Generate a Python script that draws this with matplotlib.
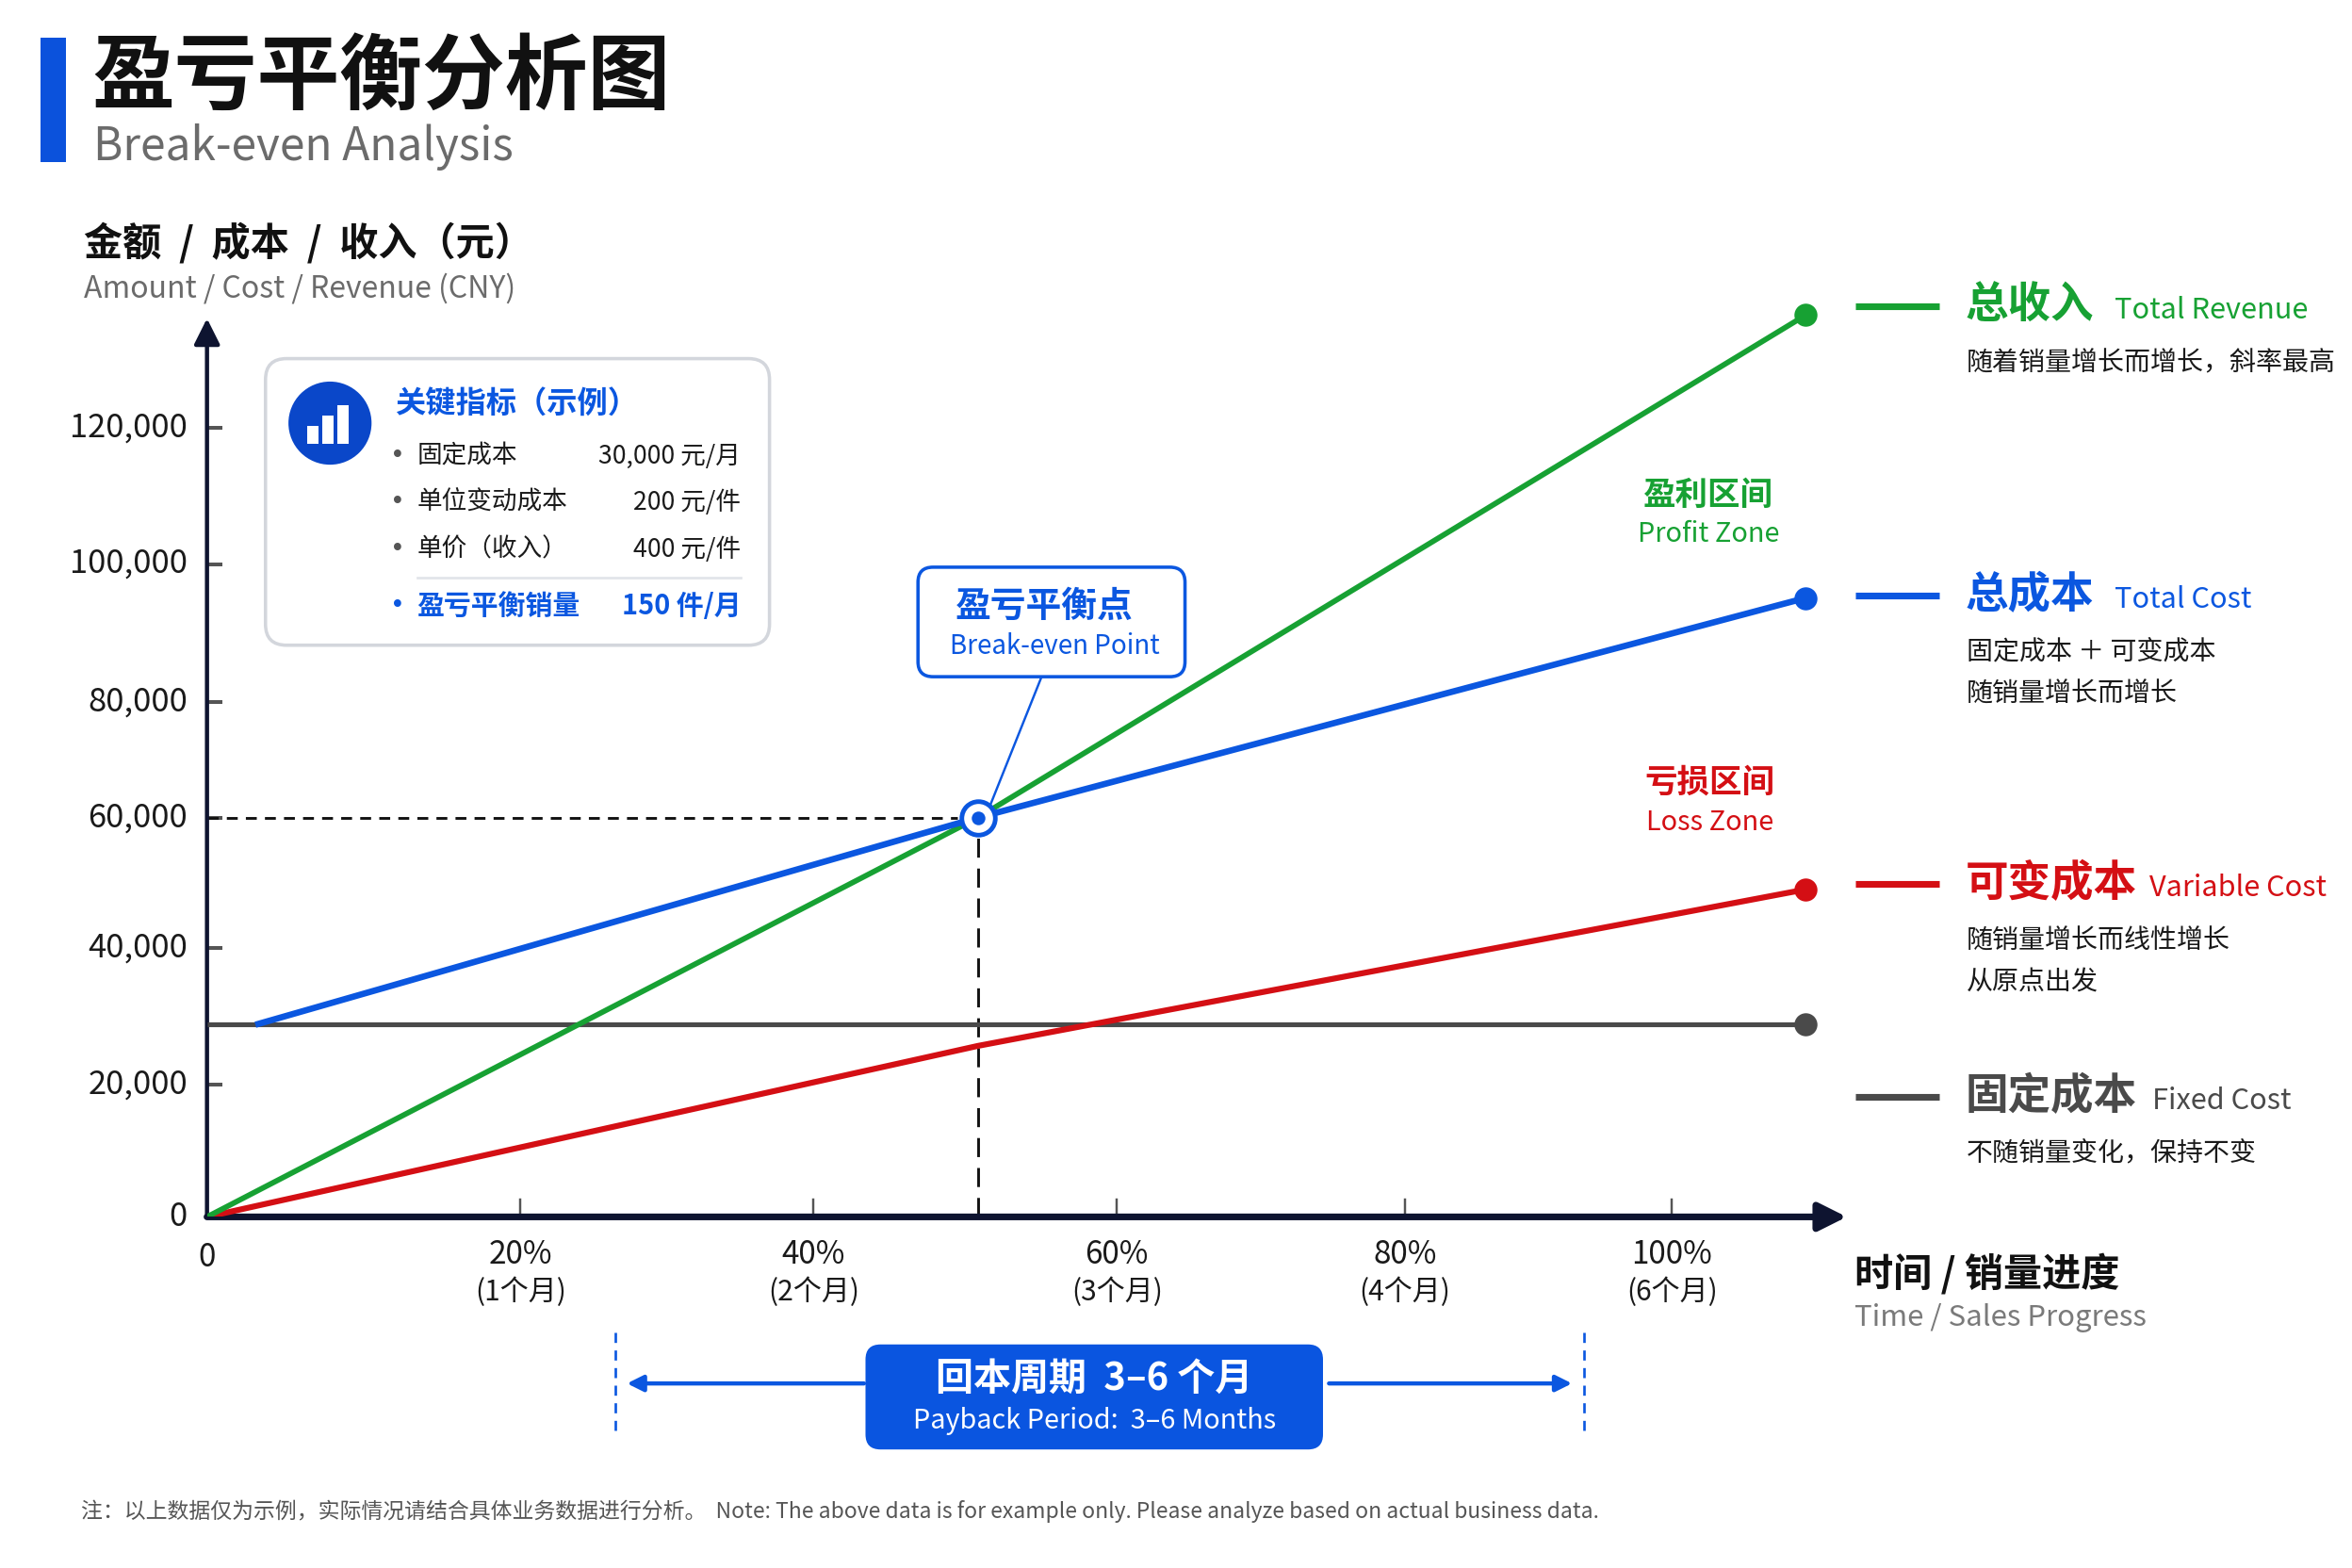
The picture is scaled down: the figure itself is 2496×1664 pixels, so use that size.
import matplotlib
matplotlib.use('Agg')
import matplotlib.pyplot as plt
from matplotlib.patches import FancyBboxPatch, Circle, Rectangle
from matplotlib.transforms import blended_transform_factory

plt.rcParams['font.family'] = ['Noto Sans CJK SC', 'DejaVu Sans']

# ---------------- data ----------------
units = [0, 150, 311]
revenue = [0, 60000, 135500]
total_cost_units = [10, 150, 311]
total_cost = [29000, 60000, 93000]
variable_cost = [0, 25700, 49200]
fixed_units = [0, 311]
fixed_cost = [29000, 29000]
break_even_units = 150
break_even_amount = 60000

y_tick_pos = [0, 19840, 40360, 60000, 77300, 98100, 118600]
y_tick_labels = ['0', '20,000', '40,000', '60,000', '80,000', '100,000', '120,000']
x_tick_pos = [61, 118, 177, 233, 285]
x_tick_labels = ['20%', '40%', '60%', '80%', '100%']
x_tick_sub = ['(1个月)', '(2个月)', '(3个月)', '(4个月)', '(6个月)']

kpi_labels = ['固定成本', '单位变动成本', '单价（收入）']
kpi_values = ['30,000 元/月', '200 元/件', '400 元/件']
kpi_highlight = ('盈亏平衡销量', '150 件/月')

GREEN = '#17a133'
BLUE = '#0b57e0'
RED = '#d40f14'
GREY = '#4a4a4a'
NAVY = '#0e1430'
TXT = '#1a1a1a'

# ---------------- figure ----------------
fig = plt.figure(figsize=(15.6, 10.4), dpi=160)
fig.patch.set_facecolor('white')

W, H = 1568.0, 1045.0
ax = fig.add_axes([138 / W, (H - 811) / H, 1096.6 / W, 603.2 / H], zorder=1)
ax.set_xlim(0, 320)
ax.set_ylim(0, 136000)
ax.axis('off')

ov = fig.add_axes([0, 0, 1, 1], zorder=5)
ov.set_xlim(0, W)
ov.set_ylim(H, 0)
ov.axis('off')
ov.patch.set_alpha(0)

bx = blended_transform_factory(ax.transData, ov.transData)   # x: data, y: display
by = blended_transform_factory(ov.transData, ax.transData)   # x: display, y: data

# ---------------- axes with arrows ----------------
ax.annotate('', xy=(319, 0), xytext=(0, 0),
            arrowprops=dict(arrowstyle='-|>', lw=3.2, color=NAVY, mutation_scale=28,
                            shrinkA=0, shrinkB=0), annotation_clip=False)
ax.annotate('', xy=(0, 135000), xytext=(0, 0),
            arrowprops=dict(arrowstyle='-|>', lw=2.0, color=NAVY, mutation_scale=26,
                            shrinkA=0, shrinkB=0), annotation_clip=False)

# y ticks
for v, lab in zip(y_tick_pos, y_tick_labels):
    if v > 0:
        ax.plot([0, 3], [v, v], color='#555555', lw=1.8, solid_capstyle='butt', clip_on=False)
    ax.text(125, v, lab, transform=by, ha='right', va='center', fontsize=15.5, color=TXT)

# x ticks
for p, lab, sub in zip(x_tick_pos, x_tick_labels, x_tick_sub):
    ax.plot([p, p], [0, 2600], color='#555555', lw=1.1, clip_on=False)
    ax.text(p, 836, lab, transform=bx, ha='center', va='center', fontsize=15, color=TXT)
    ax.text(p, 861, sub, transform=bx, ha='center', va='center', fontsize=13.5, color=TXT)
ax.text(0, 838, '0', transform=bx, ha='center', va='center', fontsize=15, color=TXT)

# ---------------- data lines ----------------
ax.plot(fixed_units, fixed_cost, color=GREY, lw=2.3, solid_capstyle='butt', zorder=3)
ax.plot(units, variable_cost, color=RED, lw=2.8, zorder=4)
ax.plot(units, revenue, color=GREEN, lw=2.6, zorder=4)
ax.plot(total_cost_units, total_cost, color=BLUE, lw=3.0, zorder=5)

ax.plot(units[-1], revenue[-1], 'o', color=GREEN, ms=10, zorder=6, clip_on=False)
ax.plot(units[-1], total_cost[-1], 'o', color=BLUE, ms=10, zorder=6, clip_on=False)
ax.plot(units[-1], variable_cost[-1], 'o', color=RED, ms=10, zorder=6, clip_on=False)
ax.plot(fixed_units[-1], fixed_cost[-1], 'o', color=GREY, ms=10, zorder=6, clip_on=False)

# break-even guides
ax.plot([0, break_even_units - 4], [break_even_amount] * 2, color='#111111', lw=1.3,
        dashes=(4, 3), zorder=2)
ax.plot([break_even_units] * 2, [0, break_even_amount - 3000], color='#111111', lw=1.3,
        dashes=(7, 4), zorder=2)
ax.plot(break_even_units, break_even_amount, 'o', ms=16, mfc='white', mec=BLUE, mew=2.2, zorder=8)
ax.plot(break_even_units, break_even_amount, 'o', ms=5.5, color=BLUE, zorder=9)

# ---------------- title ----------------
ov.add_patch(Rectangle((27, 25), 17, 83, color='#0b52dc', lw=0))
ov.text(61, 52, '盈亏平衡分析图', fontsize=39.5, fontweight='bold', color='#111111',
        ha='left', va='center')
ov.text(62, 98, 'Break-even Analysis', fontsize=21.5, color='#6b6b6b', ha='left', va='center')

ov.text(56, 162, '金额  /  成本  /  收入（元）', fontsize=18.5, fontweight='bold', color='#111111',
        ha='left', va='center')
ov.text(56, 192, 'Amount / Cost / Revenue (CNY)', fontsize=14.4, color='#6b6b6b',
        ha='left', va='center')

ov.text(1236, 849, '时间 / 销量进度', fontsize=18.5, fontweight='bold', color='#111111',
        ha='left', va='center')
ov.text(1236, 878, 'Time / Sales Progress', fontsize=14, color='#7a7a7a', ha='left', va='center')

# ---------------- KPI box ----------------
ov.add_patch(FancyBboxPatch((177, 239), 336, 191, boxstyle='round,pad=0,rounding_size=14',
                            ec='#d3d6dc', fc='white', lw=1.6, zorder=2))
ov.add_patch(Circle((220, 282), 27, color='#0a47c9', zorder=3))
for x0, h in zip([205, 215, 225], [12, 19, 26]):
    ov.add_patch(Rectangle((x0, 296 - h), 7.5, h, color='white', lw=0, zorder=4))
ov.text(263, 269, '关键指标（示例）', fontsize=14.5, fontweight='bold', color=BLUE,
        ha='left', va='center', zorder=4)
for i, (lab, val) in enumerate(zip(kpi_labels, kpi_values)):
    yy = 304 + i * 31
    ov.text(265, yy, '•', fontsize=12, color='#555555', ha='center', va='center', zorder=4,
            family='DejaVu Sans')
    ov.text(278, yy, lab, fontsize=12, color=TXT, ha='left', va='center', zorder=4)
    ov.text(494, yy, val, fontsize=12, color=TXT, ha='right', va='center', zorder=4)
ov.plot([278, 494], [385, 385], color='#e1e4e9', lw=1.2, zorder=4)
ov.text(265, 404, '•', fontsize=12, color=BLUE, ha='center', va='center', zorder=4,
        family='DejaVu Sans')
ov.text(278, 404, kpi_highlight[0], fontsize=13, fontweight='bold', color=BLUE,
        ha='left', va='center', zorder=4)
ov.text(494, 404, kpi_highlight[1], fontsize=13, fontweight='bold', color=BLUE,
        ha='right', va='center', zorder=4)

# ---------------- break-even callout ----------------
ov.add_patch(FancyBboxPatch((612, 378), 178, 73, boxstyle='round,pad=0,rounding_size=10',
                            ec=BLUE, fc='white', lw=1.6, zorder=3))
ov.text(696, 404, '盈亏平衡点', fontsize=17, fontweight='bold', color=BLUE,
        ha='center', va='center', zorder=4)
ov.text(703, 431, 'Break-even Point', fontsize=12.5, color=BLUE, ha='center', va='center', zorder=4)
ov.plot([694, 660], [452, 537], color=BLUE, lw=1.1, zorder=3)

# ---------------- zone labels ----------------
ov.text(1139, 330, '盈利区间', fontsize=15.5, fontweight='bold', color=GREEN, ha='center', va='center')
ov.text(1139, 356, 'Profit Zone', fontsize=13, color=GREEN, ha='center', va='center')
ov.text(1140, 521, '亏损区间', fontsize=15.5, fontweight='bold', color=RED, ha='center', va='center')
ov.text(1140, 548, 'Loss Zone', fontsize=13, color=RED, ha='center', va='center')

# ---------------- right legend ----------------
legend = [
    (204, GREEN, '总收入', 'Total Revenue', 1410, ['随着销量增长而增长，斜率最高']),
    (397, BLUE, '总成本', 'Total Cost', 1410, ['固定成本 ＋ 可变成本', '随销量增长而增长']),
    (589, RED, '可变成本', 'Variable Cost', 1433, ['随销量增长而线性增长', '从原点出发']),
    (731, GREY, '固定成本', 'Fixed Cost', 1435, ['不随销量变化，保持不变']),
]
for yy, col, zh, en, enx, desc in legend:
    ov.plot([1237, 1293], [yy, yy], color=col, lw=3.2, solid_capstyle='butt')
    ov.text(1310, yy, zh, fontsize=20.5, fontweight='bold', color=col, ha='left', va='center')
    ov.text(enx, yy + 3, en, fontsize=13.8, color=col, ha='left', va='center')
    for j, d in enumerate(desc):
        ov.text(1311, yy + 38 + j * 27, d, fontsize=12.6, color=TXT, ha='left', va='center')

# ---------------- payback period ----------------
for xx in [410, 1056]:
    ov.plot([xx, xx], [888, 955], color=BLUE, lw=1.2, dashes=(4, 3))
ov.annotate('', xy=(418, 922), xytext=(576, 922),
            arrowprops=dict(arrowstyle='-|>', lw=2.0, color=BLUE, mutation_scale=16,
                            shrinkA=0, shrinkB=0))
ov.annotate('', xy=(1048, 922), xytext=(886, 922),
            arrowprops=dict(arrowstyle='-|>', lw=2.0, color=BLUE, mutation_scale=16,
                            shrinkA=0, shrinkB=0))
ov.add_patch(FancyBboxPatch((577, 896), 305, 70, boxstyle='round,pad=0,rounding_size=10',
                            ec='none', fc='#0a55e0', zorder=3))
ov.text(729.5, 919, '回本周期  3–6 个月', fontsize=18, fontweight='bold', color='white',
        ha='center', va='center', zorder=4)
ov.text(729.5, 947, 'Payback Period:  3–6 Months', fontsize=13, color='white',
        ha='center', va='center', zorder=4)

# ---------------- footnote ----------------
ov.text(54, 1007, '注：以上数据仅为示例，实际情况请结合具体业务数据进行分析。  '
        'Note: The above data is for example only. Please analyze based on actual business data.',
        fontsize=10.3, color='#555555', ha='left', va='center')

fig.savefig('out.png', dpi=160, facecolor='white')
